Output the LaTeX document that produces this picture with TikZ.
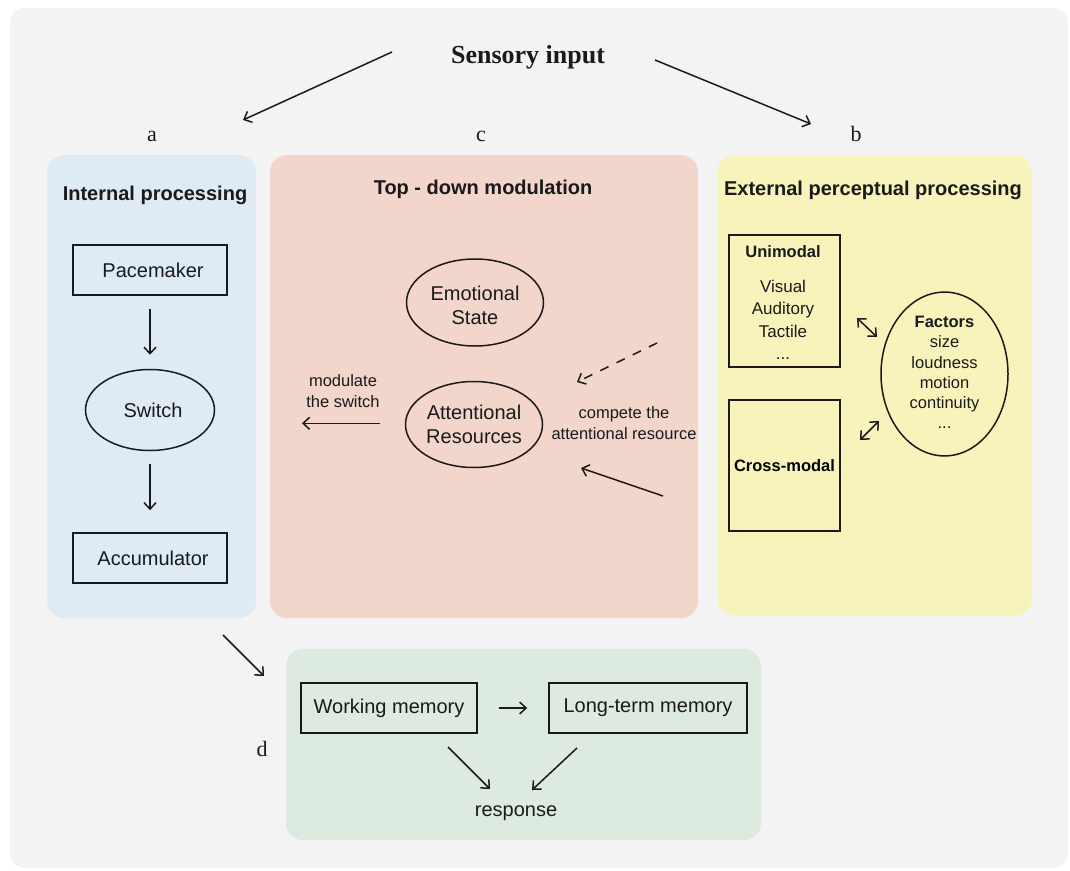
\documentclass[tikz,border=0pt]{standalone}
\usepackage{fontspec}
\setmainfont{Liberation Sans}
\newfontfamily\tpserif{Liberation Serif}
\usetikzlibrary{arrows.meta,shapes.geometric}
\definecolor{tpBack}{HTML}{F3F3F3}
\definecolor{tpBlue}{HTML}{DFEBF4}
\definecolor{tpRose}{HTML}{F2D5CB}
\definecolor{tpSand}{HTML}{F8F2BB}
\definecolor{tpMint}{HTML}{DDEADF}
\definecolor{tpInk}{HTML}{1A1A1A}
\tikzset{
  >={Straight Barb[length=6.5pt,width=12pt]},
  tp panel/.style={rounded corners=17pt, draw=none},
  tp box/.style={rectangle, draw=tpInk, line width=1.6pt, inner sep=0pt},
  tp oval/.style={ellipse, draw=tpInk, line width=1.5pt, inner sep=0pt, align=center},
  tp arrow/.style={->, draw=tpInk, line width=1.5pt},
  tp title/.style={font=\fontsize{20}{24}\selectfont\bfseries, text=tpInk, inner sep=0pt},
  tp text/.style={font=\fontsize{20}{24}\selectfont, text=tpInk, inner sep=0pt, align=center},
  tp small/.style={font=\fontsize{16.5}{20.3}\selectfont, text=tpInk, inner sep=0pt, align=center},
  tp letter/.style={font=\tpserif\fontsize{22}{26}\selectfont, text=tpInk, inner sep=0pt, anchor=base},
}

\begin{document}
\begin{tikzpicture}[x=1pt, y=-1pt]
  \useasboundingbox (0,0) rectangle (1070,870);
  \fill[white] (0,0) rectangle (1070,870);
  \fill[tpBack, rounded corners=15pt] (10,8) rectangle (1068,868);
  % ----- panels -----
  \fill[tp panel, fill=tpBlue] (47,155) rectangle (256,618);
  \fill[tp panel, fill=tpRose] (270,155) rectangle (698,618);
  \fill[tp panel, fill=tpSand] (717,155) rectangle (1032,615);
  \fill[tp panel, fill=tpMint] (286,649) rectangle (761,840);
  % ----- sensory input and panel letters -----
  \node[font=\tpserif\bfseries\fontsize{26}{30}\selectfont, text=tpInk, inner sep=0pt, anchor=base] (sensory) at (528,63) {Sensory input};
  \node[tp letter] (let a) at (152,141.5) {a};
  \node[tp letter] (let c) at (481,141.5) {c};
  \node[tp letter] (let b) at (856,141.5) {b};
  \node[tp letter] (let d) at (262,756.5) {d};
  \coordinate (in left) at (392,52);
  \coordinate (in a) at (243,120);
  \coordinate (in right) at (655,60);
  \coordinate (in b) at (811,124);
  \draw[tp arrow] (in left) -- (in a);
  \draw[tp arrow] (in right) -- (in b);
  % ----- a: internal processing -----
  \node[tp title] (int title) at (155,195) {Internal processing};
  \node[tp box, tp text, minimum width=154pt, minimum height=50pt] (pace) at (150,270) {\hspace*{6pt}Pacemaker};
  \node[tp oval, tp text, minimum width=129pt, minimum height=81pt] (switch) at (150,410) {\hspace*{6pt}Switch};
  \node[tp box, tp text, minimum width=154pt, minimum height=50pt] (acc) at (150,558) {\hspace*{6pt}Accumulator};
  \draw[tp arrow, shorten <=13pt, shorten >=14pt] (pace) -- (switch);
  \draw[tp arrow, shorten <=13pt, shorten >=22pt] (switch) -- (acc);
  % ----- c: top-down modulation -----
  \node[tp title] (top title) at (483,189) {Top - down modulation};
  \node[tp oval, tp text, minimum width=137pt, minimum height=87pt] (emo) at (475,302.5) {\rule{0pt}{20pt}Emotional\\State};
  \node[tp oval, tp text, minimum width=137pt, minimum height=86pt] (attn) at (474,424.5) {Attentional\\Resources};
  \node[tp small] (mod text) at (343,391) {modulate\\the switch};
  \node[tp small] (comp text) at (624,423) {compete the\\attentional resource};
  \coordinate (mod start) at (380,423.3);
  \coordinate (mod end) at (302,423.3);
  \draw[tp arrow] (mod start) -- (mod end);
  \coordinate (emo src) at (657,343);
  \coordinate (emo dst) at (577,382);
  \draw[tp arrow, dash pattern=on 9pt off 9pt] (emo src) -- (emo dst);
  \coordinate (ext src) at (663,496);
  \coordinate (ext dst) at (581,468);
  \draw[tp arrow] (ext src) -- (ext dst);
  % ----- b: external perceptual processing -----
  \node[tp title] (ext title) at (873,190) {External perceptual processing};
  \node[tp box, minimum width=111pt, minimum height=132pt] (uni) at (784.5,301) {};
  \node[tp title, font=\fontsize{16.5}{20}\selectfont\bfseries] (uni head) at (783,252) {Unimodal};
  \node[tp small, font=\fontsize{17}{22.5}\selectfont] (uni list) at (783,320) {Visual\\Auditory\\Tactile\\...};
  \node[tp box, minimum width=111pt, minimum height=131pt, font=\fontsize{16.5}{20}\selectfont\bfseries] (cross) at (784.5,465.5) {Cross-modal};
  \node[tp oval, tp small, minimum width=127pt, minimum height=162pt] (factors) at (944.5,374) {\textbf{Factors}\\size\\loudness\\motion\\continuity\\...\rule[-3pt]{0pt}{3pt}};
  \coordinate (uf a) at (857,318);
  \coordinate (uf b) at (877,337);
  \coordinate (cf a) at (860,440);
  \coordinate (cf b) at (879,421);
  \draw[tp arrow, <->] (uf a) -- (uf b);
  \draw[tp arrow, <->] (cf a) -- (cf b);
  % ----- d: memory and response -----
  \coordinate (to d a) at (223,635);
  \coordinate (to d b) at (264,676);
  \draw[tp arrow] (to d a) -- (to d b);
  \node[tp box, tp text, minimum width=176pt, minimum height=50pt] (wm) at (389,708) {Working memory};
  \node[tp box, tp text, minimum width=198pt, minimum height=50pt] (ltm) at (648,708) {Long-term memory};
  \node[tp text] (resp) at (516,813) {response};
  \draw[tp arrow, shorten <=21pt, shorten >=21pt] (wm) -- (ltm);
  \coordinate (wm out) at (448,747);
  \coordinate (resp left) at (490,789);
  \coordinate (ltm out) at (577,748);
  \coordinate (resp right) at (532,790);
  \draw[tp arrow] (wm out) -- (resp left);
  \draw[tp arrow] (ltm out) -- (resp right);
\end{tikzpicture}
\end{document}
